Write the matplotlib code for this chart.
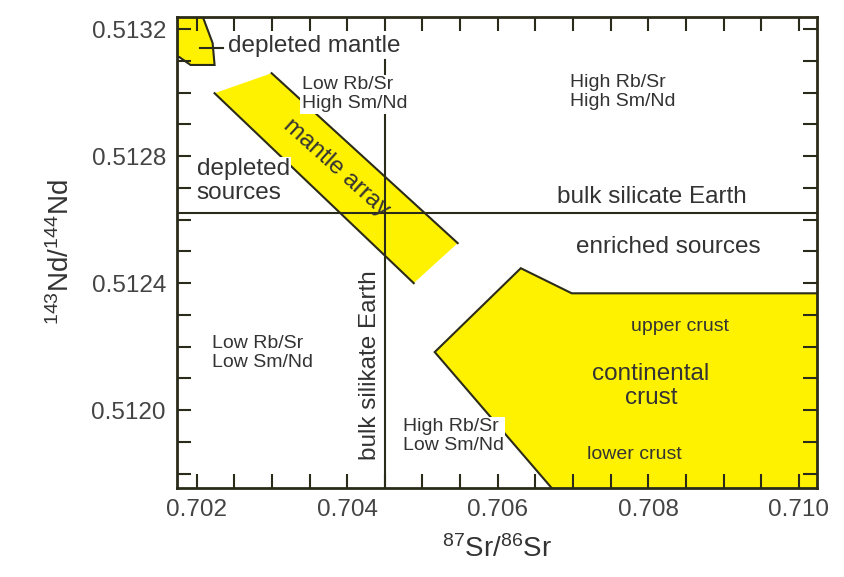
import matplotlib
matplotlib.use('Agg')
import matplotlib.pyplot as plt
from matplotlib.ticker import MultipleLocator

plt.rcParams['font.family'] = ['Liberation Sans', 'DejaVu Sans']
plt.rcParams['mathtext.default'] = 'regular'

# Reservoir outlines (87Sr/86Sr, 143Nd/144Nd)
dm_sr = [0.70165, 0.70208, 0.702213, 0.702239, 0.70192, 0.70177, 0.70165]
dm_nd = [0.51324, 0.51324, 0.513156, 0.513087, 0.513087, 0.513112, 0.513112]

ma_sr = [0.702239, 0.702997, 0.705468, 0.704884]
ma_nd = [0.512998, 0.513061, 0.512526, 0.512400]

cc_sr = [0.706306, 0.706983, 0.7104, 0.7104, 0.706832, 0.705163]
cc_nd = [0.512447, 0.512368, 0.512368, 0.51170, 0.511723, 0.512183]

# bulk silicate Earth
bse_sr = 0.7045
bse_nd = 0.51262
bse_sr_top = 0.513102

xlim = (0.70174, 0.71024)
ylim = (0.511755, 0.513238)

yellow = '#fff200'
edge = '#2b2b1a'
txt = '#333333'

fig = plt.figure(figsize=(8.45, 5.77), dpi=100)
ax = fig.add_axes([177 / 845, 1 - 488 / 577, 640 / 845, 471 / 577])

# depleted mantle
ax.fill(dm_sr, dm_nd, facecolor=yellow, edgecolor=edge, lw=1.5, zorder=1)
ax.plot([0.70204, 0.702346], [0.51314, 0.51314], color=edge, lw=1.5, zorder=2)

# mantle array, outlined on the long sides only
ax.fill(ma_sr, ma_nd, facecolor=yellow, edgecolor='none', zorder=1)
ax.plot([ma_sr[1], ma_sr[2]], [ma_nd[1], ma_nd[2]], color=edge, lw=1.5, zorder=2)
ax.plot([ma_sr[0], ma_sr[3]], [ma_nd[0], ma_nd[3]], color=edge, lw=1.5, zorder=2)

# continental crust
ax.fill(cc_sr, cc_nd, facecolor=yellow, edgecolor=edge, lw=1.5, zorder=1)

# BSE reference lines
ax.axhline(bse_nd, color=edge, lw=1.5, zorder=2)
ax.plot([bse_sr, bse_sr], [ylim[0] - 0.0001, bse_sr_top], color=edge, lw=1.5, zorder=2)

big = 17.5
small = 14
wbox = dict(facecolor='white', edgecolor='none', pad=1)

ax.text(0.702412, 0.513146, 'depleted mantle', fontsize=big, color=txt,
        ha='left', va='center')
ax.text(0.703395, 0.512995, 'Low Rb/Sr\nHigh Sm/Nd', fontsize=small, color=txt,
        ha='left', va='center', linespacing=1.15, bbox=wbox)
ax.text(0.706957, 0.513002, 'High Rb/Sr\nHigh Sm/Nd', fontsize=small, color=txt,
        ha='left', va='center', linespacing=1.15)
ax.text(0.702, 0.512721, 'depleted\nsources', fontsize=big, color=txt,
        ha='left', va='center', linespacing=1.1, bbox=wbox)
ax.text(0.70386, 0.512762, 'mantle array', fontsize=big, color=txt,
        ha='center', va='center', rotation=-42, rotation_mode='anchor')
ax.text(0.708047, 0.512671, 'bulk silicate Earth', fontsize=big, color=txt,
        ha='center', va='center')
ax.text(0.708259, 0.512513, 'enriched sources', fontsize=big, color=txt,
        ha='center', va='center')
ax.text(0.702199, 0.51218, 'Low Rb/Sr\nLow Sm/Nd', fontsize=small, color=txt,
        ha='left', va='center', linespacing=1.15)
ax.text(0.704299, 0.512142, 'bulk silikate Earth', fontsize=big, color=txt,
        ha='center', va='center', rotation=90)
ax.text(0.704737, 0.511918, 'High Rb/Sr\nLow Sm/Nd', fontsize=small, color=txt,
        ha='left', va='center', linespacing=1.15, bbox=wbox)
ax.text(0.708419, 0.512265, 'upper crust', fontsize=small, color=txt,
        ha='center', va='center')
ax.text(0.708033, 0.512076, 'continental\ncrust', fontsize=big, color=txt,
        ha='center', va='center', linespacing=1.1)
ax.text(0.707821, 0.511861, 'lower crust', fontsize=small, color=txt,
        ha='center', va='center')

ax.set_xlim(*xlim)
ax.set_ylim(*ylim)
ax.xaxis.set_major_locator(MultipleLocator(0.002))
ax.xaxis.set_minor_locator(MultipleLocator(0.0005))
ax.yaxis.set_major_locator(MultipleLocator(0.0004))
ax.yaxis.set_minor_locator(MultipleLocator(0.0001))
ax.xaxis.set_major_formatter(plt.FormatStrFormatter('%.3f'))
ax.yaxis.set_major_formatter(plt.FormatStrFormatter('%.4f'))
ax.tick_params(which='both', direction='in', top=True, right=True,
               length=10, width=1.5, color=edge)
ax.tick_params(which='major', labelsize=big, labelcolor='#444444', pad=8)

for s in ax.spines.values():
    s.set_linewidth(2)
    s.set_color(edge)
    s.set_zorder(3)

ax.set_xlabel('$^{87}$Sr/$^{86}$Sr', fontsize=20, color='#333333', labelpad=10)
ax.set_ylabel('$^{143}$Nd/$^{144}$Nd', fontsize=20, color='#333333', labelpad=12)

fig.savefig('out.png', dpi=100)
